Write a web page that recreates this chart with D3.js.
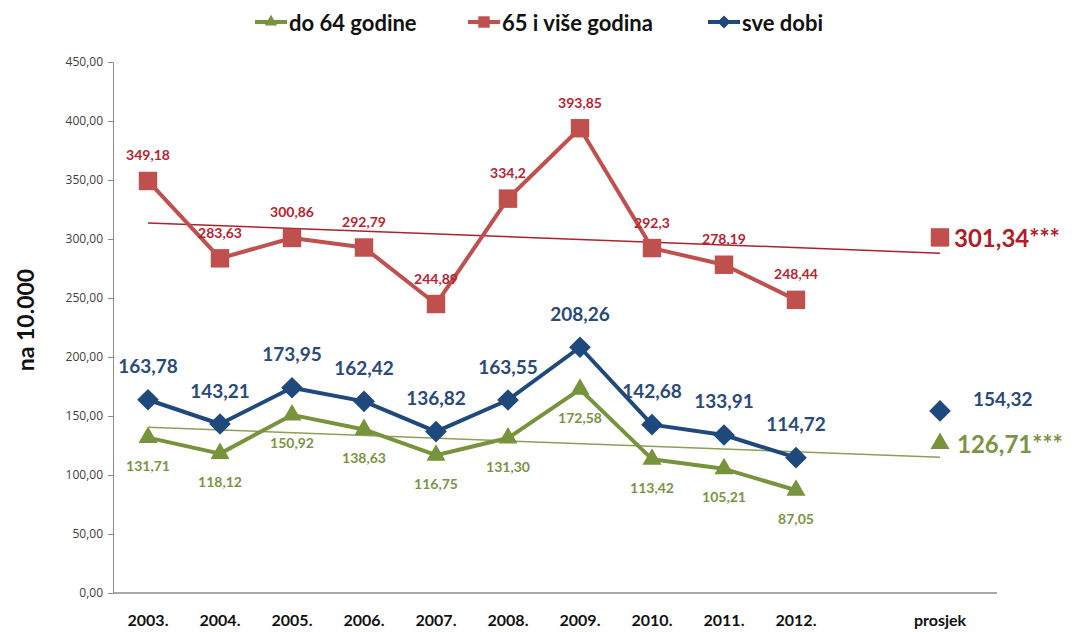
<!DOCTYPE html>
<html>
<head>
<meta charset="utf-8">
<script src="https://cdn.jsdelivr.net/npm/d3@7"></script>
<style>
  body { margin: 0; background: #fff; }
  text { font-family: Lato, "Open Sans", sans-serif; }
</style>
</head>
<body>
<div id="chart"></div>
<script>
// categories on the x axis ("" is the empty slot before the average)
var categories = ["2003.", "2004.", "2005.", "2006.", "2007.", "2008.", "2009.", "2010.", "2011.", "2012.", "", "prosjek"];
var years = categories.slice(0, 10);

// series values
var under64 = [131.71, 118.12, 150.92, 138.63, 116.75, 131.30, 172.58, 113.42, 105.21, 87.05];
var over65 = [349.18, 283.63, 300.86, 292.79, 244.89, 334.2, 393.85, 292.3, 278.19, 248.44];
var allAges = [163.78, 143.21, 173.95, 162.42, 136.82, 163.55, 208.26, 142.68, 133.91, 114.72];

// labels as printed on the chart
var under64Labels = ["131,71", "118,12", "150,92", "138,63", "116,75", "131,30", "172,58", "113,42", "105,21", "87,05"];
var over65Labels = ["349,18", "283,63", "300,86", "292,79", "244,89", "334,2", "393,85", "292,3", "278,19", "248,44"];
var allAgesLabels = ["163,78", "143,21", "173,95", "162,42", "136,82", "163,55", "208,26", "142,68", "133,91", "114,72"];

// averages (prosjek)
var averages = {under64: 126.71, over65: 301.34, allAges: 154.32};

// linear trend lines, value at first and at last category slot
var trendOver65 = [313.6, 288.0];
var trendUnder64 = [140.5, 115.0];

var yTicks = [0, 50, 100, 150, 200, 250, 300, 350, 400, 450];

var width = 1079, height = 632;
var colRed = "#c0504d", colBlue = "#1f497d", colGreen = "#77933c";
var txtRed = "#b8232f", txtBlue = "#2a4a7a", txtGreen = "#7a9444";

var svg = d3.select("#chart").append("svg")
  .attr("width", width)
  .attr("height", height);

var x = d3.scalePoint()
  .domain(categories)
  .range([148, 940]);

var y = d3.scaleLinear()
  .domain([0, 450])
  .range([593, 62]);

var fmt = function(v) { return d3.format(".2f")(v).replace(".", ","); };

// Y axis
var yAxis = svg.append("g")
  .attr("transform", "translate(113,0)")
  .call(d3.axisLeft(y).tickValues(yTicks).tickFormat(fmt).tickSize(5).tickPadding(5));
yAxis.select(".domain").attr("stroke", "#8c8c8c");
yAxis.selectAll(".tick line").attr("stroke", "#8c8c8c");
yAxis.selectAll(".tick text")
  .attr("fill", "#404040")
  .style("font-size", "12px")
  .style("font-family", "'Open Sans', sans-serif");

// X axis line
svg.append("line")
  .attr("x1", 113).attr("x2", 997)
  .attr("y1", y(0)).attr("y2", y(0))
  .attr("stroke", "#8c8c8c")
  .attr("stroke-width", 1.5);

// X labels
svg.append("g").selectAll("text")
  .data(categories.filter(function(d) { return d !== ""; }))
  .enter().append("text")
    .attr("x", function(d) { return x(d); })
    .attr("y", 626)
    .attr("text-anchor", "middle")
    .attr("fill", "#111")
    .style("font-size", "16px")
    .style("font-weight", "bold")
    .text(function(d) { return d; });

// Y axis title
svg.append("text")
  .attr("transform", "translate(34,320) rotate(-90)")
  .attr("text-anchor", "middle")
  .attr("fill", "#111")
  .style("font-size", "23px")
  .style("font-weight", "bold")
  .text("na 10.000");

// trend lines
function trend(vals, color) {
  svg.append("line")
    .attr("x1", x(categories[0])).attr("y1", y(vals[0]))
    .attr("x2", x("prosjek")).attr("y2", y(vals[1]))
    .attr("stroke", color)
    .attr("stroke-width", 1.5);
}
trend(trendOver65, "#a8242a");
trend(trendUnder64, "#8aa05a");

var line = d3.line()
  .x(function(d, i) { return x(years[i]); })
  .y(function(d) { return y(d); });

var symSquare = d3.symbol().type(d3.symbolSquare).size(340);
var symDiamond = d3.symbol().type(d3.symbolDiamond2).size(300);
var symTriangle = d3.symbol().type(d3.symbolTriangle2).size(260);

function series(vals, color, sym) {
  svg.append("path")
    .datum(vals)
    .attr("d", line)
    .attr("fill", "none")
    .attr("stroke", color)
    .attr("stroke-width", 4)
    .attr("stroke-linejoin", "round");
  svg.append("g").selectAll("path")
    .data(vals)
    .enter().append("path")
      .attr("d", sym)
      .attr("transform", function(d, i) { return "translate(" + x(years[i]) + "," + y(d) + ")"; })
      .attr("fill", color);
}

series(over65, colRed, symSquare);
series(under64, colGreen, symTriangle);
series(allAges, colBlue, symDiamond);

// data labels
function labels(vals, texts, color, dy, size, weight) {
  svg.append("g").selectAll("text")
    .data(vals)
    .enter().append("text")
      .attr("x", function(d, i) { return x(years[i]); })
      .attr("y", function(d) { return y(d) + dy; })
      .attr("text-anchor", "middle")
      .attr("dominant-baseline", "central")
      .attr("fill", color)
      .style("font-size", size)
      .style("font-weight", weight)
      .text(function(d, i) { return texts[i]; });
}
labels(over65, over65Labels, txtRed, -26, "14px", "bold");
labels(allAges, allAgesLabels, txtBlue, -34, "19px", "bold");
labels(under64, under64Labels, txtGreen, 28, "14px", "bold");

// averages
var px = x("prosjek");
svg.append("path").attr("d", symSquare)
  .attr("transform", "translate(" + px + "," + y(averages.over65) + ")")
  .attr("fill", colRed);
svg.append("path").attr("d", symDiamond)
  .attr("transform", "translate(" + px + "," + y(averages.allAges) + ")")
  .attr("fill", colBlue);
svg.append("path").attr("d", symTriangle)
  .attr("transform", "translate(" + px + "," + y(averages.under64) + ")")
  .attr("fill", colGreen);

svg.append("text")
  .attr("x", px + 14).attr("y", y(averages.over65))
  .attr("dominant-baseline", "central")
  .attr("fill", "#b01c28")
  .style("font-size", "24px").style("font-weight", "bold")
  .text(fmt(averages.over65) + "***");
svg.append("text")
  .attr("x", px + 33).attr("y", y(averages.allAges) - 12)
  .attr("dominant-baseline", "central")
  .attr("fill", txtBlue)
  .style("font-size", "19px").style("font-weight", "bold")
  .text(fmt(averages.allAges));
svg.append("text")
  .attr("x", px + 17).attr("y", y(averages.under64))
  .attr("dominant-baseline", "central")
  .attr("fill", txtGreen)
  .style("font-size", "24px").style("font-weight", "bold")
  .text(fmt(averages.under64) + "***");

// legend
var legendItems = [
  {name: "do 64 godine", color: colGreen, sym: d3.symbol().type(d3.symbolTriangle2).size(110), x: 255},
  {name: "65 i više godina", color: colRed, sym: d3.symbol().type(d3.symbolSquare).size(130), x: 468},
  {name: "sve dobi", color: colBlue, sym: d3.symbol().type(d3.symbolDiamond2).size(110), x: 708}
];
var lg = svg.append("g").selectAll("g")
  .data(legendItems)
  .enter().append("g")
    .attr("transform", function(d) { return "translate(" + d.x + ",22)"; });
lg.append("line")
  .attr("x1", 0).attr("x2", 32)
  .attr("stroke", function(d) { return d.color; })
  .attr("stroke-width", 4);
lg.append("path")
  .attr("d", function(d) { return d.sym(); })
  .attr("transform", "translate(16,0)")
  .attr("fill", function(d) { return d.color; });
lg.append("text")
  .attr("x", 34)
  .attr("dominant-baseline", "central")
  .attr("fill", "#111")
  .style("font-size", "22px")
  .style("font-weight", "bold")
  .text(function(d) { return d.name; });
</script>
</body>
</html>
